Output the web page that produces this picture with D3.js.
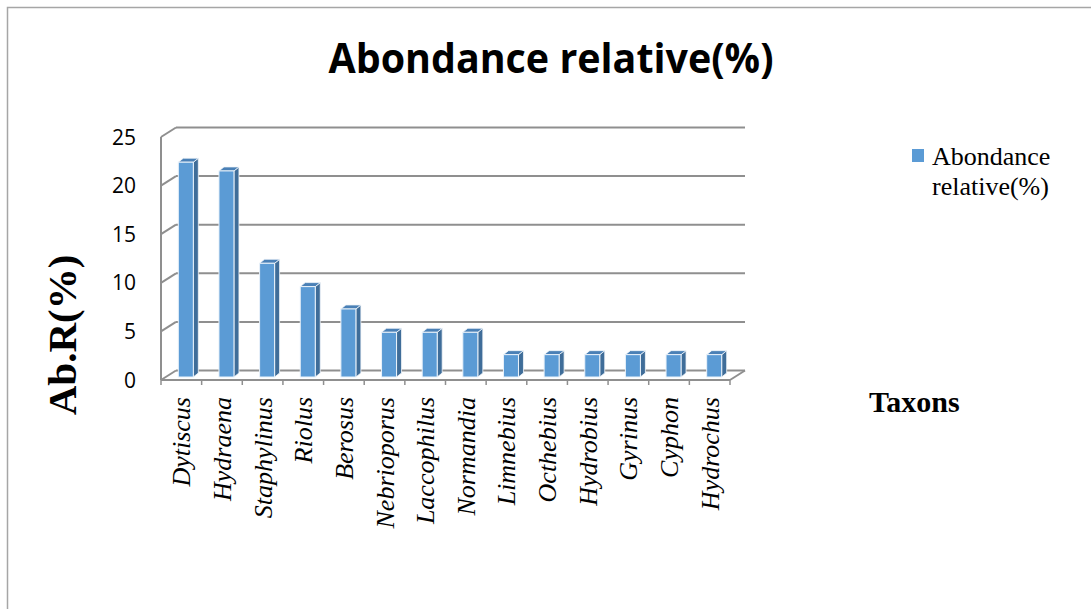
<!DOCTYPE html>
<html>
<head>
<meta charset="utf-8">
<script src="https://cdn.jsdelivr.net/npm/d3@7/dist/d3.min.js"></script>
<style>
  html, body { margin: 0; padding: 0; background: #fff; }
  svg { display: block; }
</style>
</head>
<body>
<svg id="chart" width="1091" height="609"></svg>
<script>
// Relative abundance (%) of aquatic beetle genera
const taxa = ["Dytiscus", "Hydraena", "Staphylinus", "Riolus", "Berosus", "Nebrioporus",
  "Laccophilus", "Normandia", "Limnebius", "Octhebius", "Hydrobius", "Gyrinus", "Cyphon", "Hydrochus"];
const abundance = [22.1, 21.2, 11.7, 9.3, 7.0, 4.6, 4.6, 4.6, 2.3, 2.3, 2.3, 2.3, 2.3, 2.3];
const yTicks = [0, 5, 10, 15, 20, 25];
const seriesName = "Abondance relative(%)";

const svg = d3.select("#chart");

// outer frame (top and left edges)
svg.append("path")
  .attr("d", "M7.5,609 V7.5 H1091")
  .attr("fill", "none").attr("stroke", "#a6a6a6").attr("stroke-width", 1.5);

// front plane scales; the back wall and the bars are offset in depth
const x = d3.scaleBand().domain(taxa).range([161, 730]).paddingInner(0).paddingOuter(0);
const y = d3.scaleLinear().domain([0, 25]).range([380, 137]);
const back = { dx: 15, dy: -9.5 };
const barPos = { dx: 4.5, dy: -3 };
const barDepth = { dx: 5, dy: -4 };
const barHalf = 7.5;
const gridColor = "#8f8f8f";

const g = svg.append("g");

// back wall gridlines and the diagonals to the front axis
yTicks.forEach(t => {
  g.append("line")
    .attr("x1", x.range()[0] + back.dx).attr("x2", x.range()[1] + back.dx)
    .attr("y1", y(t) + back.dy).attr("y2", y(t) + back.dy)
    .attr("stroke", gridColor).attr("stroke-width", 2);
  g.append("line")
    .attr("x1", x.range()[0]).attr("y1", y(t))
    .attr("x2", x.range()[0] + back.dx).attr("y2", y(t) + back.dy)
    .attr("stroke", gridColor).attr("stroke-width", 2);
});

// floor: front edge, right diagonal
g.append("line")
  .attr("x1", x.range()[0]).attr("x2", x.range()[1])
  .attr("y1", y(0)).attr("y2", y(0))
  .attr("stroke", gridColor).attr("stroke-width", 2);
g.append("line")
  .attr("x1", x.range()[1]).attr("y1", y(0))
  .attr("x2", x.range()[1] + back.dx).attr("y2", y(0) + back.dy)
  .attr("stroke", gridColor).attr("stroke-width", 2);

// front vertical axis
g.append("line")
  .attr("x1", x.range()[0]).attr("x2", x.range()[0])
  .attr("y1", y(25)).attr("y2", y(0))
  .attr("stroke", gridColor).attr("stroke-width", 2);

// category tick marks below the floor
const tickXs = taxa.map(d => x(d)).concat([x.range()[1]]);
g.selectAll(".xtick").data(tickXs).enter().append("line")
  .attr("x1", d => d).attr("x2", d => d)
  .attr("y1", y(0)).attr("y2", y(0) + 5)
  .attr("stroke", gridColor).attr("stroke-width", 1.5);

// y tick labels
g.selectAll(".ylab").data(yTicks).enter().append("text")
  .attr("x", 136).attr("y", d => y(d) + 7.5)
  .attr("text-anchor", "end")
  .attr("font-family", "'Open Sans', sans-serif").attr("font-size", 21)
  .attr("fill", "#000")
  .text(d => d);

// 3D columns
const bars = g.selectAll(".bar").data(taxa.map((t, i) => ({ t, v: abundance[i] }))).enter()
  .append("g");
bars.each(function(d) {
  const cx = x(d.t) + x.bandwidth() / 2 + barPos.dx;
  const x0 = cx - barHalf, x1 = cx + barHalf;
  const yb = y(0) + barPos.dy, yt = y(d.v) + barPos.dy;
  const sel = d3.select(this);
  // side face
  sel.append("path")
    .attr("d", `M${x1},${yb} L${x1 + barDepth.dx},${yb + barDepth.dy} L${x1 + barDepth.dx},${yt + barDepth.dy} L${x1},${yt} Z`)
    .attr("fill", "#3f6d99").attr("stroke", "#f2f6fa").attr("stroke-width", 0.8);
  // top face
  sel.append("path")
    .attr("d", `M${x0},${yt} L${x0 + barDepth.dx},${yt + barDepth.dy} L${x1 + barDepth.dx},${yt + barDepth.dy} L${x1},${yt} Z`)
    .attr("fill", "#4a80b6").attr("stroke", "#f2f6fa").attr("stroke-width", 0.8);
  // front face
  sel.append("rect")
    .attr("x", x0).attr("y", yt).attr("width", x1 - x0).attr("height", yb - yt)
    .attr("fill", "#5b9bd5").attr("stroke", "#eaf2fa").attr("stroke-width", 1);
});

// category labels, rotated
g.selectAll(".xlab").data(taxa).enter().append("text")
  .attr("transform", d => `translate(${x(d) + x.bandwidth() / 2 + 9},397) rotate(-90)`)
  .attr("text-anchor", "end")
  .attr("font-family", "'Liberation Serif', 'Times New Roman', serif")
  .attr("font-style", "italic").attr("font-size", 26)
  .attr("fill", "#000")
  .text(d => d);

// title
svg.append("text")
  .attr("x", 551).attr("y", 73)
  .attr("text-anchor", "middle")
  .attr("font-family", "'Open Sans', sans-serif").attr("font-weight", "bold")
  .attr("font-size", 42)
  .attr("textLength", 445).attr("lengthAdjust", "spacingAndGlyphs")
  .attr("fill", "#000")
  .text(seriesName);

// axis titles
svg.append("text")
  .attr("transform", "translate(76,335) rotate(-90)")
  .attr("text-anchor", "middle")
  .attr("font-family", "'Liberation Serif', 'Times New Roman', serif")
  .attr("font-weight", "bold").attr("font-size", 41)
  .attr("fill", "#000")
  .text("Ab.R(%)");

svg.append("text")
  .attr("x", 869).attr("y", 412)
  .attr("font-family", "'Liberation Serif', 'Times New Roman', serif")
  .attr("font-weight", "bold").attr("font-size", 30)
  .attr("fill", "#000")
  .text("Taxons");

// legend
const legend = svg.append("g");
legend.append("rect")
  .attr("x", 912).attr("y", 149).attr("width", 12).attr("height", 13)
  .attr("fill", "#5b9bd5");
const legText = legend.append("text")
  .attr("font-family", "'Liberation Serif', 'Times New Roman', serif")
  .attr("font-size", 26).attr("fill", "#000");
legText.append("tspan").attr("x", 932).attr("y", 165).text("Abondance");
legText.append("tspan").attr("x", 932).attr("y", 195).text("relative(%)");
</script>
</body>
</html>
